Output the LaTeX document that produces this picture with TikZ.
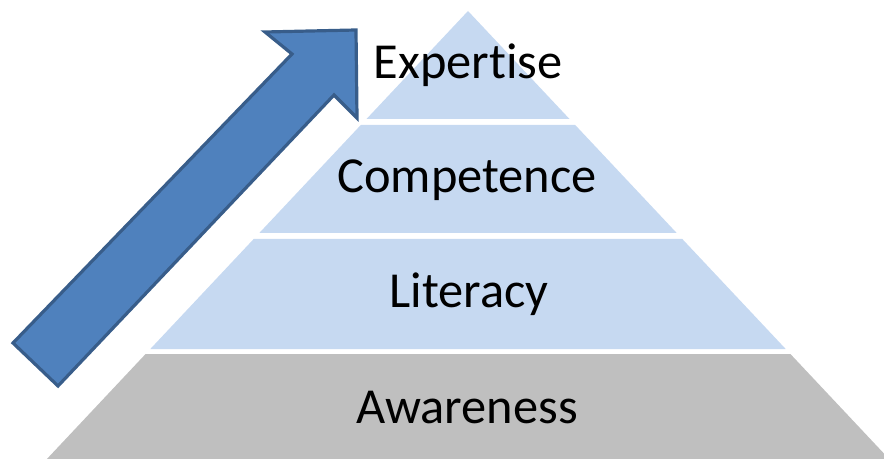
\documentclass[tikz,border=0pt]{standalone}
\usepackage{fontspec}
\setmainfont[Ligatures=NoCommon]{Carlito}
\usetikzlibrary{positioning}

\definecolor{bandblue}{RGB}{198,217,241}
\definecolor{bandgray}{RGB}{191,191,191}
\definecolor{arrowfill}{RGB}{79,129,189}
\definecolor{arrowline}{RGB}{56,93,138}

\tikzset{every picture/.style={line width=0.75pt}}
\tikzset{
  level/.style={draw=none,fill=bandblue},
  levelbase/.style={draw=none,fill=bandgray},
  levellabel/.style={anchor=base,inner sep=0.75pt,font=\fontsize{37.8}{45}\selectfont},
}

\begin{document}
\begin{tikzpicture}[x=0.75pt,y=0.75pt,yscale=-1,xscale=1]
\useasboundingbox (0,0) rectangle (884,459);
\clip (0,0) rectangle (884,459);

%Shape: Trapezoid [id:awareness]
\draw [levelbase] (145.6,354) -- (790.4,354) -- (889.1,459) -- (46.9,459) -- cycle ;
%Shape: Trapezoid [id:literacy]
\draw [level] (253.7,239) -- (682.3,239) -- (785.7,349) -- (150.3,349) -- cycle ;
%Shape: Trapezoid [id:competence]
\draw [level] (360.8,125) -- (575.2,125) -- (676.7,233) -- (259.3,233) -- cycle ;
%Shape: Triangle [id:expertise]
\draw [level] (468,11) -- (569.5,119) -- (366.5,119) -- cycle ;

%Shape: Up Right Arrow [id:growth]
\draw [color=arrowline,fill=arrowfill,line width=2.4,line join=miter] (13,343) -- (58,386) -- (334,95) -- (357,118) -- (356,30) -- (265,32) -- (292,54) -- cycle ;

% Text Node
\node [levellabel] (lblexpertise) at (468,79) {Expertise};
% Text Node
\node [levellabel] (lblcompetence) at (467,193) {Competence};
% Text Node
\node [levellabel] (lblliteracy) at (469,307) {Literacy};
% Text Node
\node [levellabel] (lblawareness) at (467,423) {Awareness};

\end{tikzpicture}
\end{document}
